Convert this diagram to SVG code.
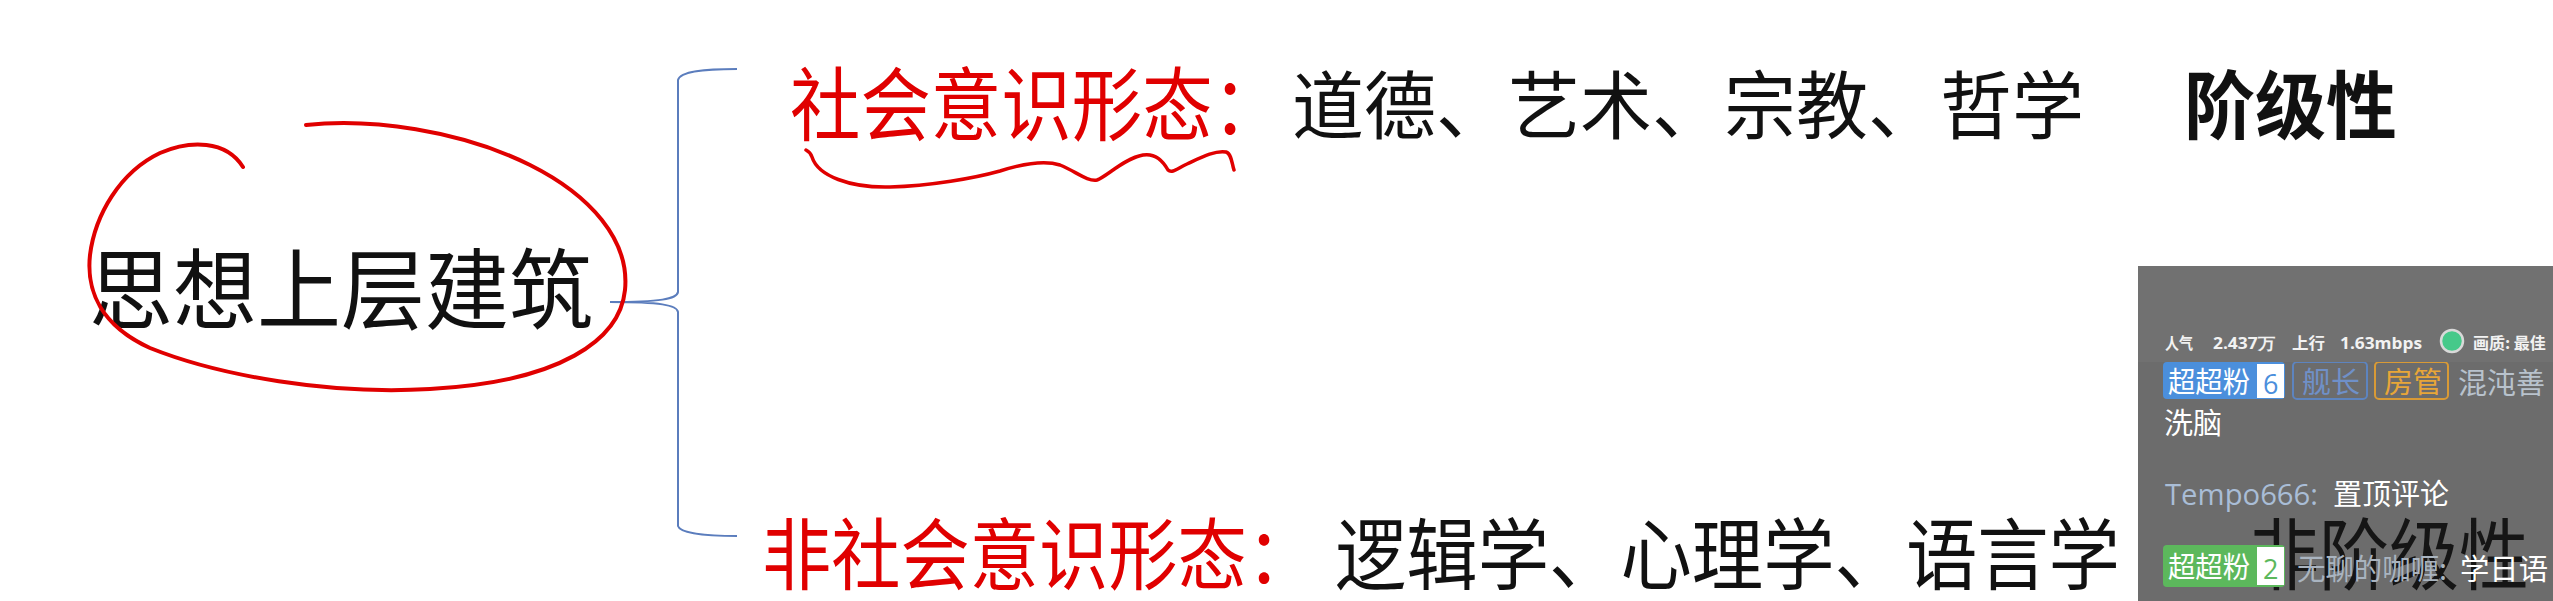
<svg xmlns="http://www.w3.org/2000/svg" width="2553" height="601" viewBox="0 0 2553 601">
<style>
.cjk{font-family:"Noto Sans CJK SC","Noto Sans",sans-serif;}
.red{fill:#e00000;}
.blk{fill:#111;}
.ink{fill:none;stroke:#e00000;stroke-linecap:round;stroke-linejoin:round;}
.brace{fill:none;stroke:#5b7dbd;stroke-width:2;}
.chat{font-family:"Noto Sans CJK SC","Noto Sans",sans-serif;font-size:29px;}
.lat{font-family:"Open Sans","Noto Sans",sans-serif;}
.stat{fill:#f2f2f2;font-size:16px;font-weight:700;}
</style>
<defs>
<clipPath id="pc"><rect x="2138" y="266" width="415" height="335"/></clipPath>
</defs>
<rect width="2553" height="601" fill="#ffffff"/>

<g id="connectors">
<path class="brace" d="M737,69 C705,69 680,71 678,80 L678,292 C677,299 660,302 610,302 M610,302 C660,302 677,305 678,312 L678,526 C680,533 705,536 737,536"/>
</g>

<g id="root">
<text class="cjk blk" x="89" y="322" font-size="88" textLength="504" lengthAdjust="spacingAndGlyphs">思想上层建筑</text>
<path class="ink" stroke-width="4" d="M306,125 C370,118 460,130 530,165 C590,195 630,240 625,290 C620,340 560,382 430,389 C330,395 220,376 150,348 C102,326 86,292 90,255 C95,215 120,172 160,153 C190,140 226,140 243,167"/>
</g>

<g id="ideology">
<text class="cjk red" x="790" y="134" font-size="80" textLength="493" lengthAdjust="spacingAndGlyphs">社会意识形态：</text>
<path class="ink" stroke-width="3.5" d="M806,150 C810,152 811,154 812,157 C818,176 850,188 890,187 C930,186 975,178 1000,171 C1025,163 1045,160 1060,165 C1075,171 1088,182 1097,180 C1106,177 1125,158 1143,155 C1155,153 1163,161 1168,170 C1172,174 1178,168 1187,164 C1200,158 1215,150 1226,152 C1232,154 1232,165 1234,170"/>
<text class="cjk blk" x="1292" y="133" font-size="74" textLength="792" lengthAdjust="spacingAndGlyphs">道德、艺术、宗教、哲学</text>
<text class="cjk blk" x="2184" y="133" font-size="74" font-weight="700" textLength="213" lengthAdjust="spacingAndGlyphs">阶级性</text>
</g>

<g id="non-ideology">
<text class="cjk red" x="762" y="584" font-size="78" textLength="554" lengthAdjust="spacingAndGlyphs">非社会意识形态：</text>
<text class="cjk blk" x="1335" y="584" font-size="78" textLength="785" lengthAdjust="spacingAndGlyphs">逻辑学、心理学、语言学</text>
</g>

<g id="overlay" clip-path="url(#pc)">
<rect x="2138" y="266" width="415" height="335" fill="#6c6c6c"/>
<text class="cjk" x="2249" y="584" font-size="78" fill="#151515" textLength="280" lengthAdjust="spacingAndGlyphs">非阶级性</text>
<g fill="none" stroke="#d8d8d8" stroke-width="2.5">
<circle cx="2555" cy="297" r="9"/>
<circle cx="2555" cy="297" r="3.5"/>
</g>

<rect x="2163" y="362" width="122" height="37" rx="4" fill="#4b8fdc"/>
<rect x="2257" y="364" width="27" height="34" fill="#ffffff"/>
<text class="chat" x="2168" y="393" font-size="26" fill="#ffffff" textLength="82" lengthAdjust="spacingAndGlyphs">超超粉</text>
<text class="lat" x="2263" y="394" font-size="27" fill="#4b8fdc">6</text>
<rect x="2293" y="362" width="74" height="37" rx="4" fill="none" stroke="#5d84bf" stroke-width="2"/>
<text class="chat" x="2302" y="393" font-size="26" fill="#6f90c8">舰长</text>
<rect x="2375" y="362" width="73" height="37" rx="4" fill="none" stroke="#d99a35" stroke-width="2"/>
<text class="chat" x="2384" y="393" font-size="26" fill="#e8a638">房管</text>
<text class="chat" x="2458" y="394" fill="#b8c2cc">混沌善</text>

<rect x="2138" y="266" width="415" height="96" fill="#717171"/>
<text class="cjk stat" x="2165" y="349" textLength="28" lengthAdjust="spacingAndGlyphs">人气</text>
<text class="lat stat" x="2213" y="349" textLength="62" lengthAdjust="spacingAndGlyphs">2.437万</text>
<text class="cjk stat" x="2292" y="349" textLength="33" lengthAdjust="spacingAndGlyphs">上行</text>
<text class="lat stat" x="2340" y="349" textLength="82" lengthAdjust="spacingAndGlyphs">1.63mbps</text>
<text class="cjk stat" x="2473" y="349">画质: 最佳</text>
<circle cx="2452" cy="341" r="11" fill="#46c98a" stroke="#d9d9d9" stroke-width="2.5"/>

<text class="chat" x="2164" y="434" fill="#ffffff">洗脑</text>
<text class="lat" x="2165" y="505" font-size="29" fill="#a9bdd6" textLength="153" lengthAdjust="spacingAndGlyphs">Tempo666:</text>
<text class="chat" x="2333" y="505" fill="#ffffff">置顶评论</text>

<rect x="2163" y="545" width="122" height="42" rx="4" fill="#5cb85c"/>
<rect x="2257" y="547" width="27" height="38" fill="#ffffff"/>
<text class="chat" x="2168" y="578" font-size="26" fill="#ffffff" textLength="82" lengthAdjust="spacingAndGlyphs">超超粉</text>
<text class="lat" x="2263" y="579" font-size="27" fill="#5cb85c">2</text>
<text class="chat" x="2297" y="580" fill="#a9b4c0" textLength="150" lengthAdjust="spacingAndGlyphs">无聊的咖喱:</text>
<text class="chat" x="2460" y="580" fill="#ffffff" textLength="88" lengthAdjust="spacingAndGlyphs">学日语</text>
</g>
</svg>
